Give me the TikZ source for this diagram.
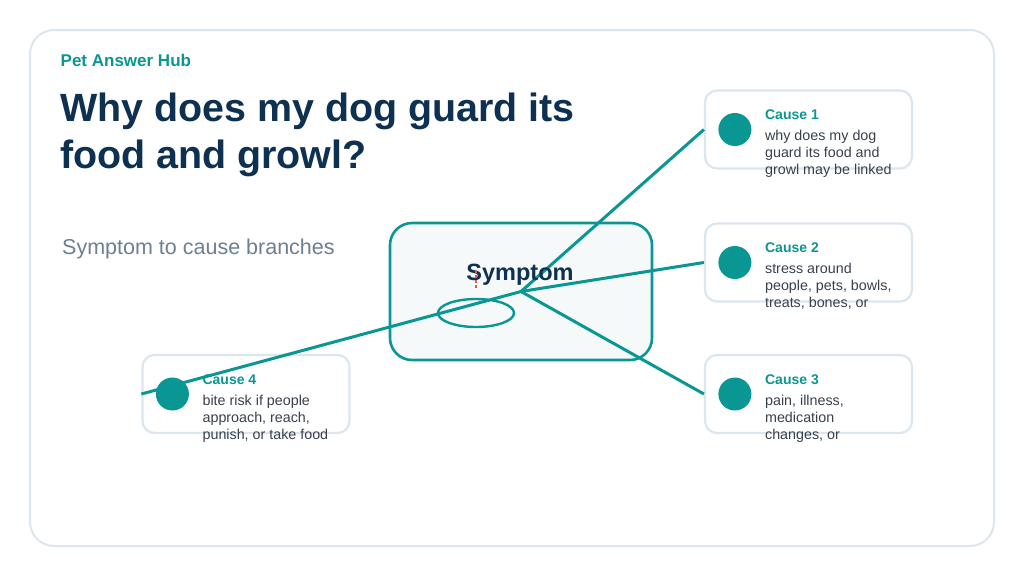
\documentclass[tikz,border=0pt]{standalone}
\usepackage{fontspec}
\setmainfont{Liberation Sans}
\usetikzlibrary{positioning}
\definecolor{hteal}{HTML}{0A9793}
\definecolor{hnavy}{HTML}{0E3151}
\definecolor{hgray}{HTML}{6E7F94}
\definecolor{htext}{HTML}{37414D}
\definecolor{hframe}{HTML}{DCE6EE}
\definecolor{hpale}{HTML}{F5F9FA}
\definecolor{hred}{HTML}{E05A5A}

\begin{document}
\begin{tikzpicture}[x=1pt,y=-1pt,
  causebox/.style={draw=hframe,line width=2.2pt,fill=white,rounded corners=12pt,
    minimum width=207pt,minimum height=78pt,inner sep=0pt},
  causedot/.style={circle,fill=hteal,minimum size=33pt,inner sep=0pt},
  causetitle/.style={anchor=base west,inner sep=0pt,text=hteal,
    font=\fontsize{14}{16}\selectfont\bfseries},
  causetext/.style={anchor=base west,inner sep=0pt,align=left,text=htext,
    font=\fontsize{14.3}{17}\selectfont},
  branch/.style={draw=hteal,line width=3pt}]
 \useasboundingbox (0,0) rectangle (1024,576);
 \draw[hframe,line width=2pt,fill=white,rounded corners=24pt] (30,30) rectangle (994,546);
 % header (base of a two-line node sits on its last line)
 \node[anchor=base west,inner sep=0pt,text=hteal,font=\fontsize{17}{20}\selectfont\bfseries]
   (brand) at (60.5,66) {Pet Answer Hub};
 \node[anchor=base west,inner sep=0pt,align=left,text=hnavy,font=\fontsize{39.4}{47}\selectfont\bfseries]
   (title) at (60,168) {Why does my dog guard its\\food and growl?};
 \node[anchor=base west,inner sep=0pt,text=hgray,font=\fontsize{21.5}{26}\selectfont]
   (sub) at (62,254) {Symptom to cause branches};
 % symptom hub
 \node[draw=hteal,line width=2.6pt,fill=hpale,rounded corners=22pt,
   minimum width=262pt,minimum height=137pt] (sym) at (521,291.5) {};
 \draw[hteal,line width=2.4pt] (476,313) ellipse [x radius=38, y radius=14];
 % causes
 \foreach \i/\cx/\cy/\txt in {
   1/808.5/129.5/{why does my dog\\guard its food and\\growl may be linked},
   2/808.5/262.5/{stress around\\people, pets, bowls,\\treats, bones, or},
   3/808.5/394/{pain, illness,\\medication\\changes, or},
   4/246/394/{bite risk if people\\approach, reach,\\punish, or take food}} {
  \node[causebox] (c\i) at (\cx,\cy) {};
  \node[causedot] (dot\i) at ([xshift=31pt]c\i.west) {};
  \node[causetitle] (ttl\i) at ([xshift=61pt,yshift=10pt]c\i.west) {Cause \i};
  \node[causetext] (txt\i) at ([xshift=61pt,yshift=-45pt]c\i.west) {\txt};
 }
 \foreach \i in {1,...,4} \draw[branch] (sym.center) -- (c\i.west);
 \node[anchor=base,inner sep=0pt,text=hnavy,font=\fontsize{23.5}{28}\selectfont\bfseries]
   (symlabel) at (520,280) {Symptom};
 \draw[hred,line width=2.4pt,dash pattern=on 3pt off 2pt] (476,270) -- (476,288);
\end{tikzpicture}
\end{document}
